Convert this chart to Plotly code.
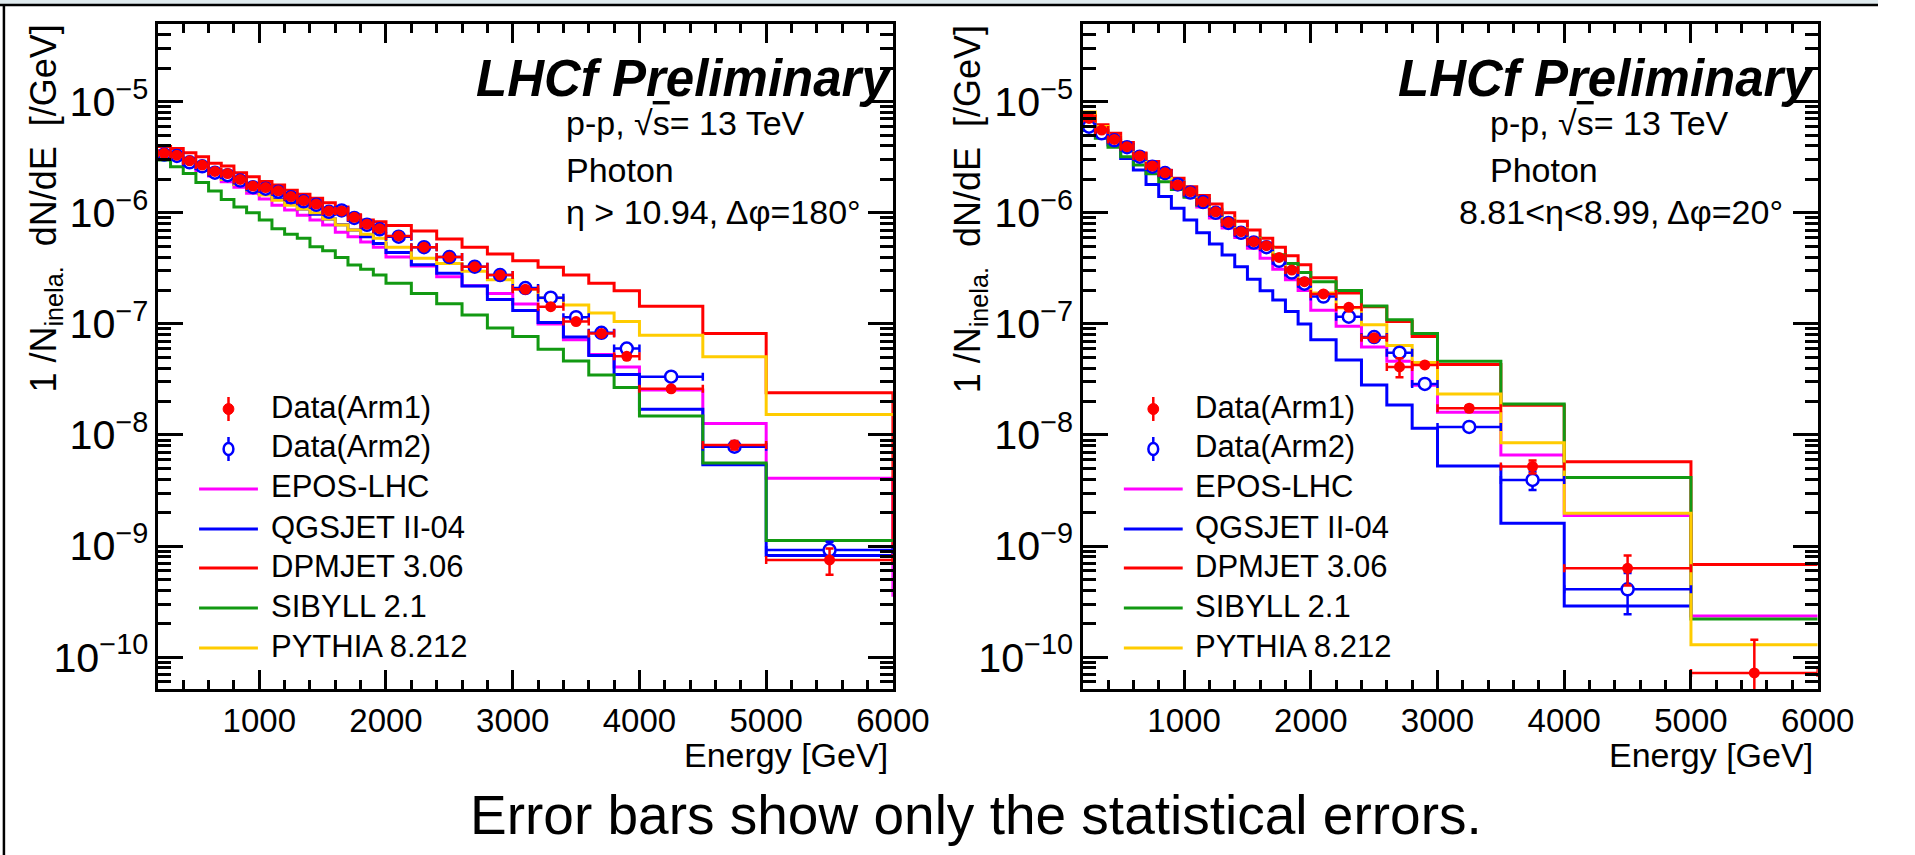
import plotly.graph_objects as go

W, H = 1915, 855
FONT = "Liberation Sans, Arial, Helvetica, sans-serif"

# ---------------- binning (GeV) ----------------
left_edges = [200, 300, 400, 500, 600, 700, 800, 900, 1000, 1100, 1200, 1300, 1400,
              1500, 1600, 1700, 1800, 1900, 2000, 2200, 2400, 2600, 2800, 3000, 3200,
              3400, 3600, 3800, 4000, 4500, 5000, 6000]
right_edges = [200, 300, 400, 500, 600, 700, 800, 900, 1000, 1100, 1200, 1300, 1400,
               1500, 1600, 1700, 1800, 1900, 2000, 2200, 2400, 2600, 2800, 3000, 3500,
               4000, 5000, 6000]

# ---------------- eta > 10.94 (1/GeV) ----------------
left_arm1 = [3.43e-6, 3.30e-6, 2.94e-6, 2.69e-6, 2.36e-6, 2.26e-6, 2.00e-6, 1.74e-6, 1.69e-6,
             1.58e-6, 1.40e-6, 1.29e-6, 1.20e-6, 1.04e-6, 1.04e-6, 9.1e-7, 7.9e-7, 7.2e-7,
             6.2e-7, 4.9e-7, 4.0e-7, 3.27e-7, 2.75e-7, 2.05e-7, 1.43e-7, 1.05e-7, 8.2e-8,
             5.1e-8, 2.6e-8, 8.1e-9, 7.5e-10]
left_arm1_err = [0, 0, 0, 0, 0, 0, 0, 0, 0, 0, 0, 0, 0, 0, 0, 0, 0, 0,
                 4e-9, 4e-9, 4e-9, 4e-9, 4e-9, 3e-9, 3e-9, 3e-9, 2e-9, 2e-9, 1.5e-9, 7e-10, 2e-10]
left_arm2 = [3.35e-6, 3.25e-6, 2.85e-6, 2.62e-6, 2.30e-6, 2.18e-6, 1.95e-6, 1.70e-6, 1.65e-6,
             1.55e-6, 1.38e-6, 1.27e-6, 1.18e-6, 1.02e-6, 1.05e-6, 9.0e-7, 7.8e-7, 7.1e-7,
             6.1e-7, 4.9e-7, 4.0e-7, 3.27e-7, 2.75e-7, 2.1e-7, 1.72e-7, 1.15e-7, 8.3e-8,
             6.0e-8, 3.35e-8, 7.85e-9, 9.2e-10]
left_arm2_err = [0, 0, 0, 0, 0, 0, 0, 0, 0, 0, 0, 0, 0, 0, 0, 0, 0, 0,
                 4e-9, 4e-9, 4e-9, 4e-9, 4e-9, 3e-9, 3e-9, 3e-9, 2e-9, 2e-9, 1.5e-9, 7e-10, 1.7e-10]
left_epos = [3.40e-6, 3.10e-6, 2.75e-6, 2.40e-6, 2.15e-6, 1.90e-6, 1.70e-6, 1.50e-6, 1.33e-6,
             1.17e-6, 1.06e-6, 9.5e-7, 8.6e-7, 7.75e-7, 6.7e-7, 6.1e-7, 5.46e-7, 4.9e-7,
             4.0e-7, 3.32e-7, 2.66e-7, 2.2e-7, 1.88e-7, 1.51e-7, 1.0e-7, 7.2e-8, 5.3e-8,
             4.1e-8, 2.54e-8, 1.27e-8, 4.07e-9]
left_qgsjet = [3.35e-6, 3.15e-6, 2.80e-6, 2.50e-6, 2.25e-6, 2.05e-6, 1.80e-6, 1.62e-6, 1.47e-6,
               1.33e-6, 1.20e-6, 1.08e-6, 9.7e-7, 8.8e-7, 7.8e-7, 7.0e-7, 6.1e-7, 5.3e-7,
               4.4e-7, 3.4e-7, 2.85e-7, 2.19e-7, 1.66e-7, 1.32e-7, 1.03e-7, 7.6e-8, 5.2e-8,
               3.5e-8, 1.7e-8, 5.4e-9, 8.2e-10]
left_dpmjet = [3.95e-6, 3.80e-6, 3.47e-6, 3.20e-6, 2.80e-6, 2.64e-6, 2.30e-6, 2.11e-6, 1.91e-6,
               1.78e-6, 1.60e-6, 1.47e-6, 1.35e-6, 1.23e-6, 1.13e-6, 9.5e-7, 8.6e-7, 8.3e-7,
               7.7e-7, 6.86e-7, 5.8e-7, 4.9e-7, 4.25e-7, 3.7e-7, 3.24e-7, 2.76e-7, 2.32e-7,
               1.99e-7, 1.44e-7, 8.2e-8, 2.4e-8]
left_sibyll = [2.99e-6, 2.60e-6, 2.26e-6, 1.87e-6, 1.57e-6, 1.32e-6, 1.13e-6, 1.00e-6, 8.6e-7,
               7.2e-7, 6.4e-7, 5.9e-7, 4.95e-7, 4.56e-7, 3.95e-7, 3.39e-7, 3.10e-7, 2.75e-7,
               2.32e-7, 1.88e-7, 1.52e-7, 1.20e-7, 9.2e-8, 7.7e-8, 5.9e-8, 4.63e-8, 3.47e-8,
               2.67e-8, 1.48e-8, 5.6e-9, 1.12e-9]
left_pythia = [3.45e-6, 3.20e-6, 2.85e-6, 2.55e-6, 2.25e-6, 2.00e-6, 1.80e-6, 1.60e-6, 1.45e-6,
               1.30e-6, 1.17e-6, 1.08e-6, 1.00e-6, 8.8e-7, 7.75e-7, 7.0e-7, 6.4e-7, 5.9e-7,
               4.9e-7, 3.9e-7, 3.5e-7, 2.98e-7, 2.5e-7, 2.05e-7, 1.72e-7, 1.48e-7, 1.25e-7,
               1.05e-7, 7.9e-8, 5.07e-8, 1.53e-8]
# content of the bin beyond 6 TeV (only the closing edge of the histogram shows)
left_overflow = {"EPOS-LHC": 3.5e-10, "DPMJET 3.06": 7.0e-10}

# ---------------- 8.81 < eta < 8.99 (1/GeV) ----------------
right_arm1 = [7.08e-6, 5.56e-6, 4.58e-6, 3.94e-6, 3.25e-6, 2.64e-6, 2.30e-6, 1.78e-6, 1.55e-6,
              1.26e-6, 1.02e-6, 8.2e-7, 6.76e-7, 5.5e-7, 5.06e-7, 3.97e-7, 3.05e-7, 2.40e-7,
              1.86e-7, 1.41e-7, 7.5e-8, 4.1e-8, 4.27e-8, 1.74e-8, 5.2e-9, 6.3e-10, 7.2e-11]
right_arm1_err = [0, 0, 0, 0, 0, 0, 0, 0, 0, 0, 0, 0, 0, 0, 0, 0, 0, 0,
                  4e-9, 4e-9, 4e-9, 8e-9, 2e-9, 1e-9, 7e-10, 1.9e-10, 7.1e-11]
right_arm2 = [5.96e-6, 5.2e-6, 4.5e-6, 3.9e-6, 3.2e-6, 2.6e-6, 2.28e-6, 1.8e-6, 1.52e-6,
              1.25e-6, 1.0e-6, 8.1e-7, 6.6e-7, 5.4e-7, 4.9e-7, 3.7e-7, 2.9e-7, 2.3e-7,
              1.76e-7, 1.16e-7, 7.6e-8, 5.5e-8, 2.88e-8, 1.18e-8, 3.94e-9, 4.08e-10, None]
right_arm2_err = [0, 0, 0, 0, 0, 0, 0, 0, 0, 0, 0, 0, 0, 0, 0, 0, 0, 0,
                  4e-9, 4e-9, 4e-9, 4e-9, 2e-9, 1e-9, 7.5e-10, 1.65e-10, 0]
right_epos = [6.8e-6, 5.5e-6, 4.5e-6, 3.8e-6, 3.1e-6, 2.55e-6, 2.1e-6, 1.7e-6, 1.4e-6,
              1.13e-6, 9.0e-7, 7.3e-7, 6.0e-7, 4.8e-7, 3.9e-7, 3.1e-7, 2.5e-7, 2.0e-7,
              1.33e-7, 9.5e-8, 6.2e-8, 4.6e-8, 2.8e-8, 1.6e-8, 6.6e-9, 1.88e-9, 2.35e-10]
right_qgsjet = [5.75e-6, 5.2e-6, 4.07e-6, 3.09e-6, 2.43e-6, 1.80e-6, 1.40e-6, 1.10e-6, 8.6e-7,
                6.62e-7, 5.24e-7, 4.17e-7, 3.27e-7, 2.52e-7, 1.99e-7, 1.64e-7, 1.29e-7, 9.98e-8,
                7.2e-8, 4.73e-8, 2.82e-8, 1.86e-8, 1.15e-8, 5.26e-9, 1.6e-9, 2.88e-10, None]
right_dpmjet = [7.6e-6, 6.2e-6, 5.2e-6, 4.3e-6, 3.45e-6, 2.9e-6, 2.4e-6, 2.05e-6, 1.72e-6,
                1.43e-6, 1.2e-6, 1.0e-6, 8.4e-7, 7.0e-7, 5.9e-7, 4.9e-7, 4.1e-7, 3.4e-7,
                2.6e-7, 1.9e-7, 1.43e-7, 1.05e-7, 7.7e-8, 4.3e-8, 1.85e-8, 5.75e-9, 6.8e-10]
right_sibyll = [5.5e-6, 4.7e-6, 3.9e-6, 3.2e-6, 2.7e-6, 2.25e-6, 1.9e-6, 1.62e-6, 1.38e-6,
                1.17e-6, 9.8e-7, 8.3e-7, 7.0e-7, 5.9e-7, 5.0e-7, 4.2e-7, 3.5e-7, 2.9e-7,
                2.4e-7, 2.0e-7, 1.45e-7, 1.09e-7, 8.2e-8, 4.6e-8, 1.9e-8, 4.13e-9, 2.2e-10]
right_pythia = [8.1e-6, 6.0e-6, 4.8e-6, 4.0e-6, 3.3e-6, 2.7e-6, 2.3e-6, 1.9e-6, 1.58e-6,
                1.3e-6, 1.07e-6, 8.8e-7, 7.2e-7, 5.8e-7, 4.8e-7, 3.9e-7, 3.1e-7, 2.5e-7,
                1.9e-7, 1.4e-7, 9.8e-8, 6.4e-8, 4.5e-8, 2.34e-8, 8.5e-9, 1.97e-9, 1.29e-10]

model_names = ["EPOS-LHC", "QGSJET II-04", "DPMJET 3.06", "SIBYLL 2.1", "PYTHIA 8.212"]
model_colors = ["#ff00ff", "#0000ff", "#ff0000", "#129912", "#ffcc00"]
data_names = ["Data(Arm1)", "Data(Arm2)"]

# ---------------- geometry (pixels) ----------------
FRAME_TOP, FRAME_BOT = 24, 689.3
LEFT_X0, LEFT_X1 = 161, 910.5
RIGHT_X0, RIGHT_X1 = 1104, 1853.5


def px(x):
    return x / W


def py(y):
    return 1 - y / H


def centers(edges):
    return [(a + b) / 2 for a, b in zip(edges[:-1], edges[1:])]


def halfwidths(edges):
    return [(b - a) / 2 for a, b in zip(edges[:-1], edges[1:])]


def step_xy(edges, vals, tail=None):
    xs, ys = [], []
    for lo, hi, v in zip(edges[:-1], edges[1:], vals):
        xs += [lo, hi]
        ys += [v, v]
    if tail is not None:
        xs.append(edges[-1])
        ys.append(tail)
    return xs, ys


fig = go.Figure()

panels = [
    ("x", "y", left_edges,
     [left_epos, left_qgsjet, left_dpmjet, left_sibyll, left_pythia],
     left_arm1, left_arm1_err, left_arm2, left_arm2_err, left_overflow),
    ("x2", "y2", right_edges,
     [right_epos, right_qgsjet, right_dpmjet, right_sibyll, right_pythia],
     right_arm1, right_arm1_err, right_arm2, right_arm2_err, {}),
]

for xa, ya, edges, models, a1, a1e, a2, a2e, overflow in panels:
    for name, color, vals in zip(model_names, model_colors, models):
        xs, ys = step_xy(edges, vals, overflow.get(name))
        fig.add_trace(go.Scatter(x=xs, y=ys, mode="lines", name=name,
                                 line=dict(color=color, width=3),
                                 xaxis=xa, yaxis=ya, showlegend=False, hoverinfo="skip"))
    c, hw = centers(edges), halfwidths(edges)
    fig.add_trace(go.Scatter(
        x=c, y=a2, mode="markers", name=data_names[1], xaxis=xa, yaxis=ya,
        marker=dict(symbol="circle", size=12, color="white", line=dict(color="#0000ff", width=2.5)),
        error_x=dict(type="data", array=hw, color="#0000ff", thickness=2.5, width=4),
        error_y=dict(type="data", array=a2e, color="#0000ff", thickness=2.5, width=4),
        showlegend=False, hoverinfo="skip"))
    fig.add_trace(go.Scatter(
        x=c, y=a1, mode="markers", name=data_names[0], xaxis=xa, yaxis=ya,
        marker=dict(symbol="circle", size=11, color="#ff0000"),
        error_x=dict(type="data", array=hw, color="#ff0000", thickness=2.5, width=4),
        error_y=dict(type="data", array=a1e, color="#ff0000", thickness=2.5, width=4),
        showlegend=False, hoverinfo="skip"))

tickfont = dict(family=FONT, size=33, color="black")
xaxis_style = dict(range=[200, 6000], showline=True, linecolor="black", linewidth=3,
                   mirror="allticks", ticks="inside", ticklen=19, tickwidth=2.5, tickcolor="black",
                   tick0=0, dtick=1000, showgrid=False, zeroline=False, tickfont=tickfont,
                   minor=dict(ticks="inside", ticklen=9, tickwidth=2.5, tickcolor="black",
                              tick0=0, dtick=200, showgrid=False))
yaxis_style = dict(type="log", range=[-10.29, -4.30], showline=True, linecolor="black", linewidth=3,
                   mirror="allticks", ticks="inside", ticklen=25, tickwidth=2.5, tickcolor="black",
                   dtick=1, exponentformat="power", showgrid=False, zeroline=False, tickfont=tickfont,
                   minor=dict(ticks="inside", ticklen=13, tickwidth=2.5, tickcolor="black",
                              dtick="D1", showgrid=False))

fig.update_layout(
    width=W, height=H, margin=dict(l=0, r=0, t=0, b=0, pad=0),
    paper_bgcolor="white", plot_bgcolor="rgba(0,0,0,0)", hovermode=False, showlegend=False,
    xaxis=dict(domain=[px(LEFT_X0), px(LEFT_X1)], anchor="y", **xaxis_style),
    yaxis=dict(domain=[py(FRAME_BOT), py(FRAME_TOP)], anchor="x", **yaxis_style),
    xaxis2=dict(domain=[px(RIGHT_X0), px(RIGHT_X1)], anchor="y2", **xaxis_style),
    yaxis2=dict(domain=[py(FRAME_BOT), py(FRAME_TOP)], anchor="x2", **yaxis_style),
)

annotations = []
shapes = []


def text(x, y, s, size, yanchor="middle", angle=0):
    # every label is pinned by its left edge
    annotations.append(dict(x=px(x), y=py(y), xref="paper", yref="paper", text=s, showarrow=False,
                            xanchor="left", yanchor=yanchor, textangle=angle, borderpad=0,
                            font=dict(family=FONT, size=size, color="black")))


ytitle = "1\u00a0/N<sub>inela.</sub>\u00a0\u00a0dN/dE\u00a0\u00a0[/GeV]"
sqrt_s = "p-p, \u221a<span style='text-decoration:overline'>s</span>= 13 TeV"

panel_text = [
    # frame x0, preliminary x, info x, selection text, selection x, energy-title x
    (LEFT_X0, 484, 576, "\u03b7 &gt; 10.94, \u0394\u03c6=180\u00b0", 576, 696),
    (RIGHT_X0, 1425, 1518, "8.81&lt;\u03b7&lt;8.99, \u0394\u03c6=20\u00b0", 1487, 1640),
]

for x0, prelim_x, info_x, sel_text, sel_x, etitle_x in panel_text:
    off = x0 - LEFT_X0
    # axis titles
    text(x0 - 139, FRAME_TOP, ytitle, 36, yanchor="top", angle=-90)
    text(etitle_x, 755, "Energy [GeV]", 34)
    # labels
    text(prelim_x, 78, "<b><i>LHCf Preliminary</i></b>", 51)
    text(info_x, 123, sqrt_s, 34)
    text(info_x, 170, "Photon", 34)
    text(sel_x, 212, sel_text, 34)
    # legend
    rows = [409, 449, 489, 529, 568, 608, 648]
    lx0, lx1, tx = 203 + off, 263 + off, 275 + off
    mx = (lx0 + lx1) / 2
    for yy, nm in zip(rows[:2], data_names):
        text(tx, yy - 2, nm, 31)
    for yy, nm, col in zip(rows[2:], model_names, model_colors):
        text(tx, yy - 2, nm, 31)
        shapes.append(dict(type="line", xref="paper", yref="paper", x0=px(lx0), x1=px(lx1),
                           y0=py(yy), y1=py(yy), line=dict(color=col, width=3)))
    # Arm1 symbol: filled red circle with vertical bar
    shapes.append(dict(type="line", xref="paper", yref="paper", x0=px(mx), x1=px(mx),
                       y0=py(rows[0] - 12), y1=py(rows[0] + 12), line=dict(color="#ff0000", width=2.5)))
    shapes.append(dict(type="circle", xref="paper", yref="paper", x0=px(mx - 5.5), x1=px(mx + 5.5),
                       y0=py(rows[0] - 5.5), y1=py(rows[0] + 5.5), fillcolor="#ff0000",
                       line=dict(color="#ff0000", width=1)))
    # Arm2 symbol: open blue circle with vertical bar
    shapes.append(dict(type="line", xref="paper", yref="paper", x0=px(mx), x1=px(mx),
                       y0=py(rows[1] - 12), y1=py(rows[1] - 6), line=dict(color="#0000ff", width=2.5)))
    shapes.append(dict(type="line", xref="paper", yref="paper", x0=px(mx), x1=px(mx),
                       y0=py(rows[1] + 6), y1=py(rows[1] + 12), line=dict(color="#0000ff", width=2.5)))
    shapes.append(dict(type="circle", xref="paper", yref="paper", x0=px(mx - 5), x1=px(mx + 5),
                       y0=py(rows[1] - 6), y1=py(rows[1] + 6), fillcolor="rgba(0,0,0,0)",
                       line=dict(color="#0000ff", width=2.5)))

text(478, 815, "Error bars show only the statistical errors.", 55)

# slide border
shapes.append(dict(type="rect", xref="paper", yref="paper", x0=0, x1=1, y0=py(4), y1=1,
                   fillcolor="#dfeaee", line=dict(width=0), layer="below"))
shapes.append(dict(type="line", xref="paper", yref="paper", x0=0, x1=1, y0=py(5), y1=py(5),
                   line=dict(color="black", width=2.5)))
shapes.append(dict(type="line", xref="paper", yref="paper", x0=px(4), x1=px(4), y0=0, y1=py(5),
                   line=dict(color="black", width=2.5)))

fig.update_layout(annotations=annotations, shapes=shapes)
fig.write_html("out.html")
